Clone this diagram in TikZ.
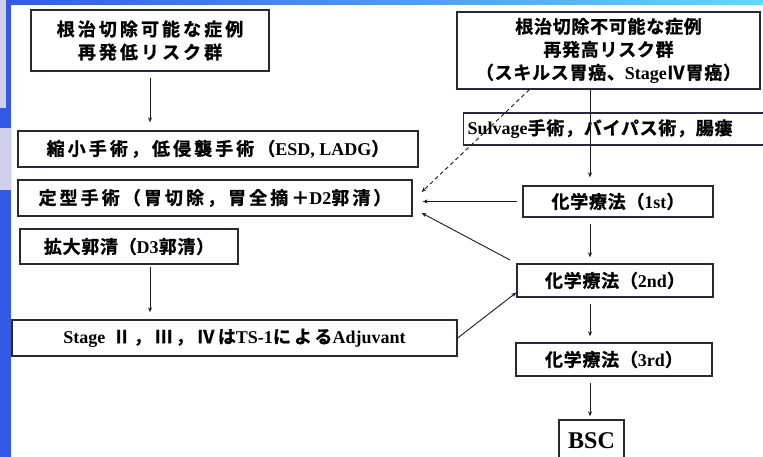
\documentclass[tikz,border=0pt]{standalone}
\usepackage{fontspec}
\setmainfont{Noto Sans CJK JP}[BoldFont={Noto Sans CJK JP Bold}, BoldFeatures={FakeBold=1}, LetterSpace=4]
\newfontfamily\weit{Noto Sans CJK JP}[BoldFont={Noto Sans CJK JP Bold}, BoldFeatures={FakeBold=1}, LetterSpace=17]
\newfontfamily\lat{Liberation Serif}
\usetikzlibrary{arrows.meta,calc,positioning}
\definecolor{rahmen}{RGB}{40,40,55}
\definecolor{pfeil}{RGB}{25,25,45}
\definecolor{folieblau}{RGB}{50,90,230}
\definecolor{foliecyan}{RGB}{100,215,250}
\definecolor{lavendel}{RGB}{208,208,236}
\newcommand{\la}[1]{{\lat\bfseries #1}}

\begin{document}
\begin{tikzpicture}[x=1pt, y=-1pt, >={Stealth[length=5pt,width=4pt]},
	box/.style={draw=rahmen, line width=1.3pt, fill=white, inner sep=0pt, align=center, font=\fontsize{18}{23}\selectfont\bfseries},
	widebox/.style={box, font=\weit\fontsize{18}{23}\selectfont\bfseries},
	link/.style={pfeil, line width=0.9pt, ->}]

	\useasboundingbox (0,0) rectangle (763,457);
	\clip (0,0) rectangle (763,457);

	% slide background
	\fill[white] (0,0) rectangle (763,457);
	\shade[left color=folieblau, right color=foliecyan] (0,0) rectangle (763,5);
	\shade[top color=folieblau, middle color=foliecyan, bottom color=folieblau] (0,0) rectangle (11,457);
	\fill[lavendel] (0,0) rectangle (6,108);
	\fill[lavendel] (0,128) rectangle (11,190);

	% left column
	\node[widebox, minimum width=238pt, minimum height=61pt] (resectable) at (150,40.5) {根治切除可能な症例\\再発低リスク群};
	\node[widebox, minimum width=400pt, minimum height=36pt] (minimal) at (218,149) {縮小手術，低侵襲手術（\la{ESD, LADG}）};
	\node[widebox, minimum width=394pt, minimum height=36pt] (standard) at (215,198) {定型手術（胃切除，胃全摘＋\la{D2}郭清）};
	\node[box, minimum width=218pt, minimum height=35pt] (extended) at (129,246.5) {拡大郭清（\la{D3}郭清）};
	\node[widebox, minimum width=445pt, minimum height=36pt] (adjuvant) at (234.5,338) {\la{Stage} Ⅱ，Ⅲ，Ⅳは\la{TS-1}による\la{Adjuvant}};

	% right column
	\node[box, minimum width=303pt, minimum height=77pt] (unresectable) at (608.5,50.5) {根治切除不可能な症例\\再発高リスク群\\（スキルス胃癌、\la{Stage}Ⅳ胃癌）};
	\node[box, text width=304pt, align=left, inner xsep=4pt, minimum height=32pt, anchor=west] (salvage) at (463,129) {\la{Sulvage}手術，バイパス術，腸瘻};
	\node[box, minimum width=190pt, minimum height=31pt] (chemoA) at (618,201.5) {化学療法（\la{1st}）};
	\node[box, minimum width=196pt, minimum height=33pt] (chemoB) at (615,280.5) {化学療法（\la{2nd}）};
	\node[box, minimum width=196pt, minimum height=33pt] (chemoC) at (614,359.5) {化学療法（\la{3rd}）};
	\node[box, minimum width=65pt, minimum height=42pt, font=\lat\bfseries\fontsize{24}{24}\selectfont] (bsc) at (591.5,441) {BSC};

	% connectors
	\coordinate (trunk) at (590,0);
	\coordinate (inA) at ($(standard.east)+(9,-6)$);
	\coordinate (inB) at ($(standard.east)+(10,3.5)$);
	\coordinate (inC) at ($(standard.east)+(9,15)$);

	\draw[link, shorten <=6pt, shorten >=8pt] (resectable.south) -- (resectable.south |- minimal.north);
	\draw[link, shorten <=2pt, shorten >=7pt] (extended.south -| resectable.south) -- (resectable.south |- adjuvant.north);

	\draw[link, shorten >=8pt] (unresectable.south -| trunk) -- (chemoA.north -| trunk);
	\draw[link, shorten <=6pt, shorten >=6pt] (chemoA.south -| trunk) -- (chemoB.north -| trunk);
	\draw[link, shorten <=6pt, shorten >=6pt] (chemoB.south -| trunk) -- (chemoC.north -| trunk);
	\draw[link, shorten <=6pt, shorten >=3pt] (chemoC.south -| trunk) -- (bsc.north -| trunk);

	\draw[link, dash pattern=on 4pt off 3pt] ($(unresectable.south west)!0.24!(unresectable.south east)$) -- (inA);
	\draw[link, shorten <=5pt] (chemoA.west) -- (chemoA.west -| inB);
	\draw[link, shorten <=7pt] (chemoB.north west) -- (inC);
	\draw[link] (adjuvant.east) -- ($(chemoB.west)!0.7!(chemoB.south west)$);

\end{tikzpicture}
\end{document}
